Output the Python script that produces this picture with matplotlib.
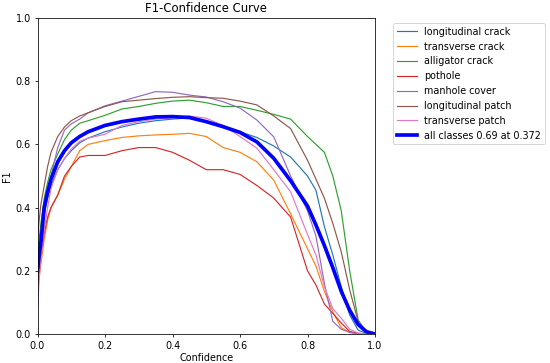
import matplotlib
matplotlib.use("Agg")
import matplotlib.pyplot as plt

conf = [0, 0.005, 0.01, 0.02, 0.03, 0.04, 0.06, 0.08, 0.1, 0.125, 0.15, 0.2, 0.25, 0.3,
        0.35, 0.4, 0.45, 0.5, 0.55, 0.6, 0.65, 0.7, 0.75, 0.8, 0.825, 0.85, 0.875, 0.9,
        0.925, 0.95, 0.975, 1.0]

longitudinal_crack = [0.18, 0.24, 0.30, 0.38, 0.43, 0.47, 0.52, 0.555, 0.58, 0.605, 0.62, 0.64,
                      0.655, 0.667, 0.675, 0.68, 0.684, 0.672, 0.655, 0.64, 0.622, 0.595, 0.56,
                      0.50, 0.455, 0.34, 0.25, 0.15, 0.06, 0.012, 0.002, 0.0]
transverse_crack = [0.15, 0.18, 0.22, 0.30, 0.36, 0.40, 0.44, 0.49, 0.53, 0.58, 0.60, 0.612,
                    0.622, 0.627, 0.63, 0.632, 0.635, 0.625, 0.59, 0.575, 0.545, 0.487, 0.38,
                    0.27, 0.215, 0.135, 0.07, 0.02, 0.005, 0.001, 0.0, 0.0]
alligator_crack = [0.25, 0.30, 0.35, 0.43, 0.48, 0.52, 0.57, 0.615, 0.645, 0.667, 0.675, 0.692,
                   0.712, 0.72, 0.73, 0.737, 0.74, 0.732, 0.72, 0.72, 0.708, 0.695, 0.68,
                   0.625, 0.60, 0.575, 0.50, 0.39, 0.20, 0.045, 0.005, 0.0]
pothole = [0.15, 0.20, 0.25, 0.32, 0.37, 0.40, 0.44, 0.50, 0.53, 0.56, 0.565, 0.565,
           0.58, 0.59, 0.59, 0.575, 0.55, 0.52, 0.52, 0.505, 0.47, 0.43, 0.37,
           0.20, 0.155, 0.095, 0.065, 0.035, 0.008, 0.002, 0.0, 0.0]
manhole_cover = [0.20, 0.25, 0.30, 0.38, 0.44, 0.50, 0.59, 0.645, 0.665, 0.68, 0.70, 0.722,
                 0.737, 0.752, 0.767, 0.765, 0.756, 0.75, 0.735, 0.715, 0.677, 0.624, 0.50,
                 0.39, 0.31, 0.16, 0.04, 0.015, 0.005, 0.001, 0.0, 0.0]
longitudinal_patch = [0.30, 0.36, 0.41, 0.47, 0.53, 0.575, 0.625, 0.655, 0.675, 0.69, 0.70, 0.72,
                      0.735, 0.74, 0.745, 0.749, 0.751, 0.748, 0.746, 0.737, 0.725, 0.69, 0.65,
                      0.55, 0.49, 0.43, 0.35, 0.26, 0.14, 0.04, 0.005, 0.0]
transverse_patch = [0.08, 0.17, 0.25, 0.33, 0.40, 0.46, 0.52, 0.555, 0.585, 0.61, 0.62, 0.632,
                    0.66, 0.672, 0.68, 0.685, 0.69, 0.683, 0.66, 0.625, 0.588, 0.52, 0.45,
                    0.315, 0.25, 0.15, 0.08, 0.05, 0.015, 0.003, 0.0, 0.0]
all_classes = [0.20, 0.25, 0.29, 0.40, 0.45, 0.49, 0.545, 0.58, 0.605, 0.625, 0.64, 0.66,
               0.672, 0.68, 0.687, 0.688, 0.685, 0.672, 0.656, 0.638, 0.608, 0.556, 0.485,
               0.405, 0.345, 0.28, 0.21, 0.135, 0.075, 0.03, 0.007, 0.0]

names = ["longitudinal crack", "transverse crack", "alligator crack", "pothole",
         "manhole cover", "longitudinal patch", "transverse patch"]
series = [longitudinal_crack, transverse_crack, alligator_crack, pothole,
          manhole_cover, longitudinal_patch, transverse_patch]
all_label = "all classes 0.69 at 0.372"

dpi = 550 / 9 * 1.14
fig = plt.figure(figsize=(550 / dpi, 363 / dpi), dpi=dpi)
ax = fig.add_axes([37.5 / 550, 29 / 363, 337.5 / 550, 316 / 363])
for name, y in zip(names, series):
    ax.plot(conf, y, linewidth=1.2, label=name)
ax.plot(conf, all_classes, linewidth=3.8, color="blue", label=all_label)
ax.set_xlabel("Confidence", labelpad=2)
ax.set_ylabel("F1")
ax.set_xlim(0, 1)
ax.set_ylim(0, 1)
ax.legend(bbox_to_anchor=(1.04, 1), loc="upper left")
ax.set_title("F1-Confidence Curve")
fig.savefig("out.png", dpi=dpi)
